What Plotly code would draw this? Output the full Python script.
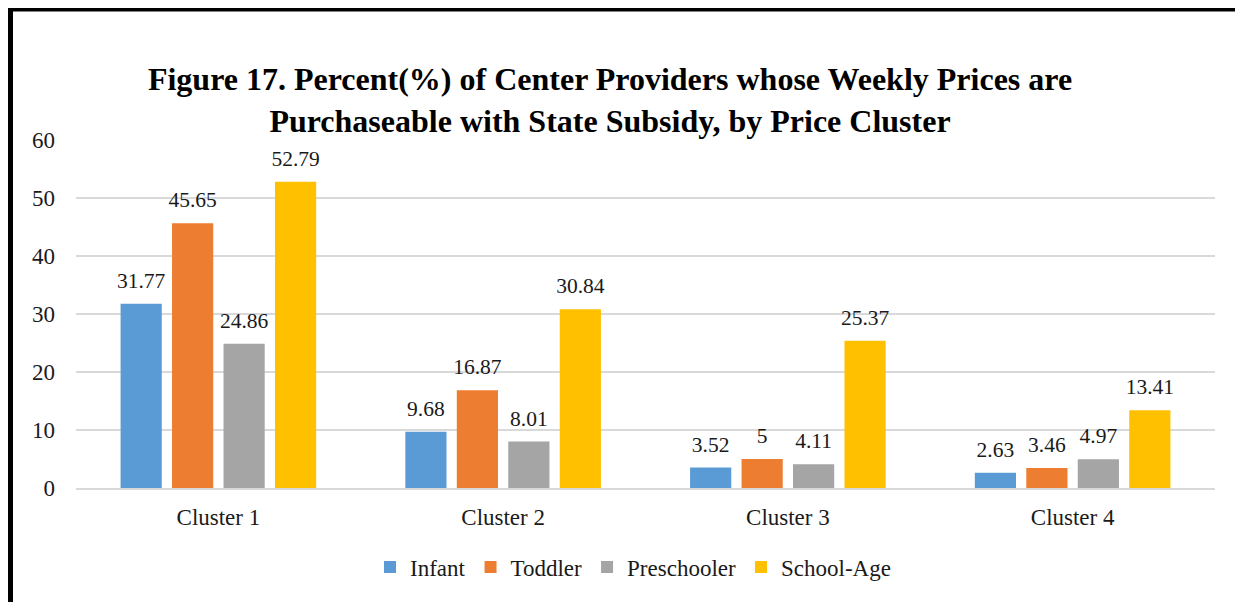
import plotly.graph_objects as go

categories = ["Cluster 1", "Cluster 2", "Cluster 3", "Cluster 4"]
series_names = ["Infant", "Toddler", "Preschooler", "School-Age"]
infant = [31.77, 9.68, 3.52, 2.63]
toddler = [45.65, 16.87, 5, 3.46]
preschooler = [24.86, 8.01, 4.11, 4.97]
school_age = [52.79, 30.84, 25.37, 13.41]
colors = ["#5B9BD5", "#ED7D31", "#A5A5A5", "#FFC000"]
y_ticks = [0, 10, 20, 30, 40, 50, 60]

FONT = "Liberation Serif"
TXT = "#1a1a1a"

fig = go.Figure()
for name, vals, col in zip(series_names, [infant, toddler, preschooler, school_age], colors):
    fig.add_trace(go.Bar(
        x=categories, y=vals, name=name, offsetgroup=name,
        marker=dict(color=col, line=dict(width=0)),
    ))
for name, vals in zip(series_names, [infant, toddler, preschooler, school_age]):
    fig.add_trace(go.Scatter(
        x=categories, y=vals, name=name, offsetgroup=name, showlegend=False,
        mode="markers+text", marker=dict(size=15, opacity=0),
        text=[f"{v:g}" for v in vals], textposition="top center",
        textfont=dict(family=FONT, size=21.5, color=TXT),
        cliponaxis=False, hoverinfo="skip",
    ))

# the page body adds an 8px offset; target screen positions are shifted by it
OFF = 8
W, H = 1243, 602
ml, mr, mt, mb = 76 - OFF, 28 + OFF, 140 - OFF, 114 + OFF
pw, ph = W - ml - mr, H - mt - mb

def px(x):
    return (x - OFF - ml) / pw

def py(y):
    return (H - mb - (y - OFF)) / ph

fig.update_layout(
    width=W, height=H,
    margin=dict(l=ml, r=mr, t=mt, b=mb, autoexpand=False),
    paper_bgcolor="white", plot_bgcolor="white",
    barmode="group", bargap=0.277, bargroupgap=0.2,
    scattermode="group", scattergap=0.277,
    font=dict(family=FONT, size=23, color=TXT),
    title=dict(
        text="<b>Figure 17. Percent(%) of Center Providers whose Weekly Prices are<br>Purchaseable with State Subsidy, by Price Cluster</b>",
        x=(610 - OFF) / W, xanchor="center", y=1 - (90 - OFF) / H, yanchor="middle",
        font=dict(family=FONT, size=32, color="black"),
    ),
    showlegend=True,
    legend=dict(
        orientation="h", x=px(633), xanchor="center", y=py(567), yanchor="middle",
        font=dict(family=FONT, size=23, color=TXT),
        itemwidth=30, traceorder="normal",
    ),
    xaxis=dict(
        showgrid=False, showline=True, linecolor="#d9d9d9", linewidth=2,
        ticks="", tickfont=dict(family=FONT, size=23, color=TXT),
        ticklabelstandoff=7,
    ),
    yaxis=dict(
        range=[0, 60], tickvals=y_ticks, showgrid=True, gridcolor="#d9d9d9", gridwidth=2,
        zeroline=False, showline=False, ticks="",
        tickfont=dict(family=FONT, size=23, color=TXT),
        ticklabelstandoff=20,
    ),
    shapes=[
        dict(type="line", xref="paper", yref="paper", x0=px(8), x1=px(1243), y0=py(9), y1=py(9),
             line=dict(color="black", width=5)),
        dict(type="line", xref="paper", yref="paper", x0=px(10.5), x1=px(10.5), y0=py(7), y1=py(610),
             line=dict(color="black", width=5)),
        dict(type="line", xref="paper", yref="paper", x0=px(1242), x1=px(1242), y0=py(12), y1=py(610),
             line=dict(color="#d9d9d9", width=1)),
    ],
)

fig.write_html("out.html")
